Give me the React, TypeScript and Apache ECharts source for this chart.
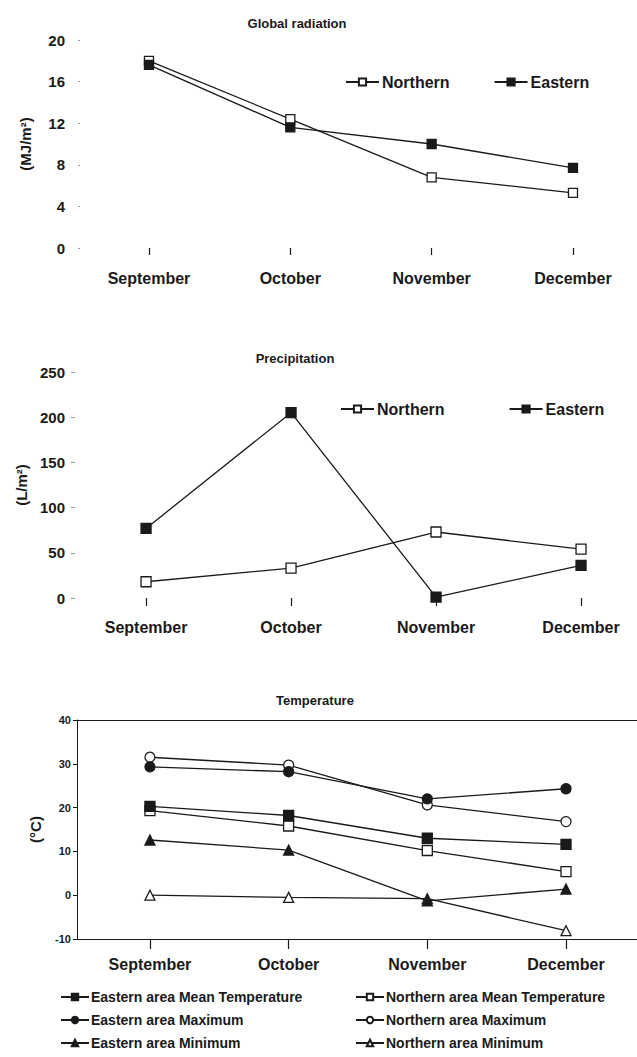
import React, { useEffect, useRef } from "react";
import * as echarts from "echarts";

const months = ["September", "October", "November", "December"];

// Global radiation (MJ/m2)
const radNorthern = [18.0, 12.4, 6.8, 5.3];
const radEastern = [17.6, 11.6, 10.0, 7.7];

// Precipitation (L/m2)
const precNorthern = [18, 33, 73, 54];
const precEastern = [77, 205, 1, 36];

// Temperature (°C)
const eastMean = [20.3, 18.2, 13.0, 11.6];
const northMean = [19.3, 15.8, 10.2, 5.4];
const eastMax = [29.3, 28.2, 22.0, 24.3];
const northMax = [31.5, 29.7, 20.6, 16.8];
const eastMin = [12.6, 10.3, -1.3, 1.4];
const northMin = [0.0, -0.5, -0.8, -8.1];

const FONT = "'Liberation Sans', Arial, sans-serif";
const INK = "#1a1a1a";
const CLEAR = "rgba(0,0,0,0)";

const pts = (arr: number[]) => arr.map((v, i) => [i, v]);

function lineSeries(
  name: string,
  data: number[],
  idx: number,
  symbol: string,
  filled: boolean,
  size: number
) {
  return {
    type: "line",
    name,
    xAxisIndex: idx,
    yAxisIndex: idx,
    data: pts(data),
    symbol,
    symbolSize: size,
    showSymbol: true,
    lineStyle: { color: INK, width: 1.3 },
    itemStyle: {
      color: filled ? INK : "#ffffff",
      borderColor: INK,
      borderWidth: 1.3,
    },
    emphasis: { disabled: true },
    z: filled ? 3 : 2,
  };
}

function xAxisDef(idx: number, min: number, max: number, tickLen: number, labelMargin: number, fontSize: number) {
  return {
    type: "value",
    gridIndex: idx,
    min,
    max,
    axisLine: { show: false, onZero: false },
    axisTick: {
      show: true,
      customValues: [0, 1, 2, 3],
      length: tickLen,
      lineStyle: { color: INK, width: 1.2 },
    },
    axisLabel: {
      customValues: [0, 1, 2, 3],
      formatter: (v: number) => months[Math.round(v)] ?? "",
      margin: labelMargin,
      color: INK,
      fontFamily: FONT,
      fontWeight: "bold",
      fontSize,
    },
    splitLine: { show: false },
    minorSplitLine: { show: false },
  };
}

function singleLegend(name: string, left: number, top: number, size: number) {
  return {
    data: [name],
    left,
    top,
    padding: 0,
    itemWidth: 28,
    itemHeight: 8,
    selectedMode: false,
    textStyle: { color: INK, fontFamily: FONT, fontWeight: "bold", fontSize: size, padding: [0, 0, 0, -3] },
  };
}

export default function App() {
  const ref = useRef<HTMLDivElement>(null);

  useEffect(() => {
    document.body.style.margin = "0";
    const chart = echarts.init(ref.current!, null, { renderer: "svg" });

    const titleStyle = {
      fontFamily: FONT,
      fontWeight: "bold",
      fontSize: 13,
      color: INK,
    };

    const yNameStyle = { color: INK, fontFamily: FONT, fontWeight: "bold", fontSize: 15 };

    const option: any = {
      animation: false,
      backgroundColor: "#ffffff",
      title: [
        { text: "Global radiation", left: 292, top: 12, textAlign: "center", textStyle: titleStyle },
        { text: "Precipitation", left: 290, top: 347, textAlign: "center", textStyle: titleStyle },
        { text: "Temperature", left: 310, top: 689, textAlign: "center", textStyle: titleStyle },
      ],
      grid: [
        { left: 80, top: 40, width: 557, height: 208, outerBoundsMode: "none" },
        { left: 75, top: 372, width: 562, height: 226, outerBoundsMode: "none" },
        { left: 77, top: 720, width: 570, height: 219, outerBoundsMode: "none" },
      ],
      xAxis: [
        xAxisDef(0, -0.488, 3.453, 7, 22, 16),
        xAxisDef(1, -0.49, 3.386, 8, 21, 16),
        xAxisDef(2, -0.526, 3.584, 10, 17, 16),
      ],
      yAxis: [
        {
          type: "value",
          gridIndex: 0,
          min: 0,
          max: 20,
          interval: 4,
          axisLine: { show: false, onZero: false },
          axisTick: { show: true, length: 2, lineStyle: { color: "#999" } },
          axisLabel: { margin: 15, color: INK, fontFamily: FONT, fontWeight: "bold", fontSize: 15 },
          splitLine: { show: false },
          name: "(MJ/m²)",
          nameLocation: "middle",
          nameRotate: 90,
          nameGap: 47,
          nameTextStyle: yNameStyle,
        },
        {
          type: "value",
          gridIndex: 1,
          min: 0,
          max: 250,
          interval: 50,
          axisLine: { show: false, onZero: false },
          axisTick: { show: true, length: 4, lineStyle: { color: "#999" } },
          axisLabel: { margin: 10, color: INK, fontFamily: FONT, fontWeight: "bold", fontSize: 15 },
          splitLine: { show: false },
          name: "(L/m²)",
          nameLocation: "middle",
          nameRotate: 90,
          nameGap: 46,
          nameTextStyle: yNameStyle,
        },
        {
          type: "value",
          gridIndex: 2,
          min: -10,
          max: 40,
          interval: 10,
          axisLine: { show: true, onZero: false, lineStyle: { color: INK, width: 1 } },
          axisTick: { show: true, length: 4, lineStyle: { color: INK } },
          axisLabel: { margin: 6, color: INK, fontFamily: FONT, fontWeight: "bold", fontSize: 11 },
          splitLine: {
            show: true,
            lineStyle: { width: 1, color: [INK, CLEAR, CLEAR, CLEAR, CLEAR, INK] },
          },
          name: "(°C)",
          nameLocation: "middle",
          nameRotate: 90,
          nameGap: 34,
          nameTextStyle: yNameStyle,
        },
      ],
      legend: [
        {
          data: ["Northern", "Eastern"],
          left: 345,
          top: 74,
          padding: 0,
          itemWidth: 33,
          itemHeight: 9,
          itemGap: 44,
          selectedMode: false,
          textStyle: { color: INK, fontFamily: FONT, fontWeight: "bold", fontSize: 16, padding: [0, 0, 0, -2] },
        },
        {
          data: ["Northern", "Eastern"],
          left: 340,
          top: 401,
          padding: 0,
          itemWidth: 33,
          itemHeight: 9,
          itemGap: 64,
          selectedMode: false,
          textStyle: { color: INK, fontFamily: FONT, fontWeight: "bold", fontSize: 16, padding: [0, 0, 0, -2] },
        },
        singleLegend("Eastern area Mean Temperature", 60, 990, 14),
        singleLegend("Eastern area Maximum", 60, 1013, 14),
        singleLegend("Eastern area Minimum", 60, 1036, 14),
        singleLegend("Northern area Mean Temperature", 355, 990, 14),
        singleLegend("Northern area Maximum", 355, 1013, 14),
        singleLegend("Northern area Minimum", 355, 1036, 14),
      ],
      series: [
        lineSeries("Northern", radNorthern, 0, "rect", false, 9),
        lineSeries("Eastern", radEastern, 0, "rect", true, 9),
        lineSeries("Northern", precNorthern, 1, "rect", false, 10),
        lineSeries("Eastern", precEastern, 1, "rect", true, 10),
        lineSeries("Eastern area Mean Temperature", eastMean, 2, "rect", true, 10),
        lineSeries("Eastern area Maximum", eastMax, 2, "circle", true, 10),
        lineSeries("Eastern area Minimum", eastMin, 2, "triangle", true, 10),
        lineSeries("Northern area Mean Temperature", northMean, 2, "rect", false, 10),
        lineSeries("Northern area Maximum", northMax, 2, "circle", false, 10),
        lineSeries("Northern area Minimum", northMin, 2, "triangle", false, 10),
      ],
    };

    chart.setOption(option);
    return () => chart.dispose();
  }, []);

  return <div ref={ref} style={{ width: 637, height: 1057 }} />;
}
